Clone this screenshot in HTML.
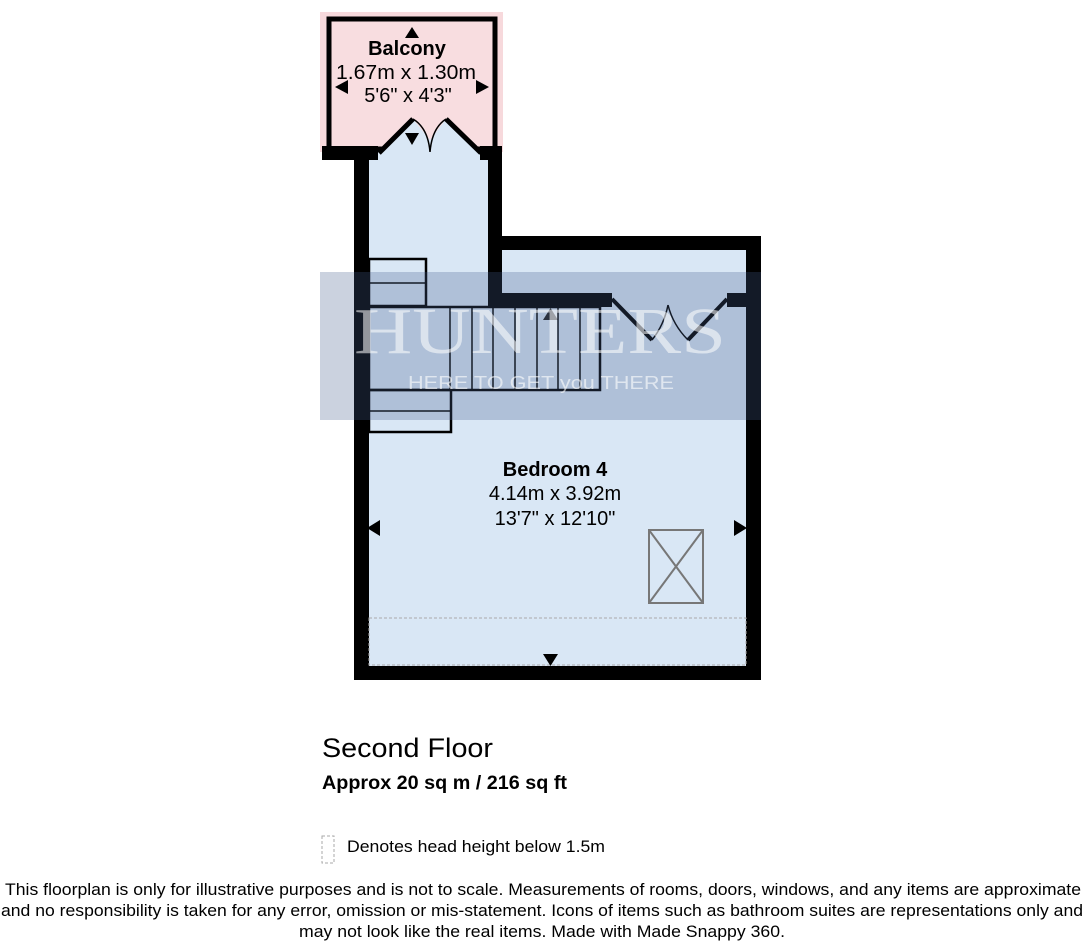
<!DOCTYPE html>
<html><head><meta charset="utf-8"><style>
html,body{margin:0;padding:0;background:#fff;}
svg{display:block;}
text{font-family:"Liberation Sans",Arial,sans-serif;}
</style></head><body>
<svg width="1088" height="945" viewBox="0 0 1088 945" xmlns="http://www.w3.org/2000/svg">
<!-- balcony -->
<rect x="320" y="12" width="183" height="140" fill="#f7d9dc"/>
<rect x="329" y="19" width="166" height="130" fill="#f8dde0" stroke="#000" stroke-width="5"/>
<!-- interior fills -->
<polygon points="369,165 380,150 413,119 430,140 446,119 480,150 489,165" fill="#d9e7f5"/>
<rect x="369" y="155" width="120" height="515" fill="#d9e7f5"/>
<rect x="488" y="249" width="260" height="421" fill="#d9e7f5"/>
<!-- walls -->
<g fill="#000">
<rect x="322" y="146" width="56" height="14"/>
<rect x="480" y="146" width="22" height="14"/>
<rect x="354" y="146" width="15" height="534"/>
<rect x="488" y="146" width="14" height="160"/>
<rect x="488" y="236" width="273" height="14"/>
<rect x="746" y="236" width="15" height="444"/>
<rect x="354" y="666" width="407" height="14"/>
<rect x="488" y="293" width="124" height="14"/>
<rect x="727" y="293" width="21" height="14"/>
</g>
<!-- doors -->
<g fill="none" stroke="#000">
<path d="M379 153 L413 119 M481 153 L446 119" stroke-width="5"/>
<path d="M413 119 Q428 128 430 152 M446 119 Q432 128 430 152" stroke-width="1.5"/>
<path d="M612 299 L652 340 M727 299 L688 340" stroke-width="4"/>
<path d="M652 340 Q664 325 668 305 M688 340 Q673 325 668 305" stroke-width="1.5"/>
</g>
<!-- stairs -->
<g fill="none" stroke="#000" stroke-width="2.5">
<rect x="369" y="259" width="57" height="47"/>
<line x1="369" y1="283" x2="426" y2="283" stroke-width="1.5"/>
<rect x="369" y="307" width="231" height="83"/>
<rect x="369" y="390" width="82" height="42"/>
<line x1="369" y1="411" x2="451" y2="411" stroke-width="1.5"/>
<g stroke-width="1.5">
<line x1="450" y1="307" x2="450" y2="390"/><line x1="472" y1="307" x2="472" y2="390"/>
<line x1="493" y1="307" x2="493" y2="390"/><line x1="515" y1="307" x2="515" y2="390"/>
<line x1="537" y1="307" x2="537" y2="390"/><line x1="558" y1="307" x2="558" y2="390"/>
<line x1="580" y1="307" x2="580" y2="390"/>
</g>
</g>
<path d="M543 320 L558 320 L550.5 308 Z" fill="#222"/>
<!-- skylight -->
<g fill="none" stroke="#777" stroke-width="2">
<rect x="649" y="530" width="54" height="73"/>
<line x1="649" y1="530" x2="703" y2="603"/><line x1="703" y1="530" x2="649" y2="603"/>
</g>
<!-- head height -->
<rect x="369" y="618" width="377" height="47" fill="none" stroke="#aaa" stroke-width="1" stroke-dasharray="3,2"/>
<!-- arrows -->
<g fill="#000">
<path d="M405 38 L419 38 L412 27 Z"/>
<path d="M335 87 L348 80 L348 94 Z"/>
<path d="M489 87 L476 80 L476 94 Z"/>
<path d="M405 133 L419 133 L412 145 Z"/>
<path d="M367 528 L380 520 L380 536 Z"/>
<path d="M747 528 L734 520 L734 536 Z"/>
<path d="M543 654 L558 654 L550.5 666 Z"/>
</g>
<!-- watermark -->
<rect x="320" y="272" width="441" height="148" fill="rgba(70,95,140,0.28)"/>
<text x="540" y="353" text-anchor="middle" font-size="66" fill="rgba(255,255,255,0.55)" textLength="372" lengthAdjust="spacingAndGlyphs" style="font-family:'Liberation Serif',serif">HUNTERS</text>
<text x="541" y="389" text-anchor="middle" font-size="18" fill="rgba(255,255,255,0.6)" textLength="266" lengthAdjust="spacingAndGlyphs">HERE TO GET you THERE</text>
<!-- labels -->
<text x="407" y="55" text-anchor="middle" font-size="20" font-weight="bold">Balcony</text>
<text x="406" y="79" text-anchor="middle" font-size="20" textLength="140" lengthAdjust="spacingAndGlyphs">1.67m x 1.30m</text>
<text x="408" y="102" text-anchor="middle" font-size="20">5'6" x 4'3"</text>
<text x="555" y="476" text-anchor="middle" font-size="20" font-weight="bold">Bedroom 4</text>
<text x="555" y="500" text-anchor="middle" font-size="20">4.14m x 3.92m</text>
<text x="555" y="525" text-anchor="middle" font-size="20">13'7" x 12'10"</text>
<text x="322" y="757" font-size="27" textLength="171" lengthAdjust="spacingAndGlyphs">Second Floor</text>
<text x="322" y="789" font-size="19" font-weight="bold" textLength="245" lengthAdjust="spacingAndGlyphs">Approx 20 sq m / 216 sq ft</text>
<rect x="322" y="836" width="12" height="27" fill="none" stroke="#aaa" stroke-dasharray="3,2"/>
<text x="347" y="852" font-size="17" textLength="258" lengthAdjust="spacingAndGlyphs">Denotes head height below 1.5m</text>
<text x="543" y="895" text-anchor="middle" font-size="17" textLength="1076" lengthAdjust="spacingAndGlyphs">This floorplan is only for illustrative purposes and is not to scale. Measurements of rooms, doors, windows, and any items are approximate</text>
<text x="542" y="916" text-anchor="middle" font-size="17" textLength="1082" lengthAdjust="spacingAndGlyphs">and no responsibility is taken for any error, omission or mis-statement. Icons of items such as bathroom suites are representations only and</text>
<text x="542" y="937" text-anchor="middle" font-size="17" textLength="486" lengthAdjust="spacingAndGlyphs">may not look like the real items. Made with Made Snappy 360.</text>
</svg>
</body></html>
